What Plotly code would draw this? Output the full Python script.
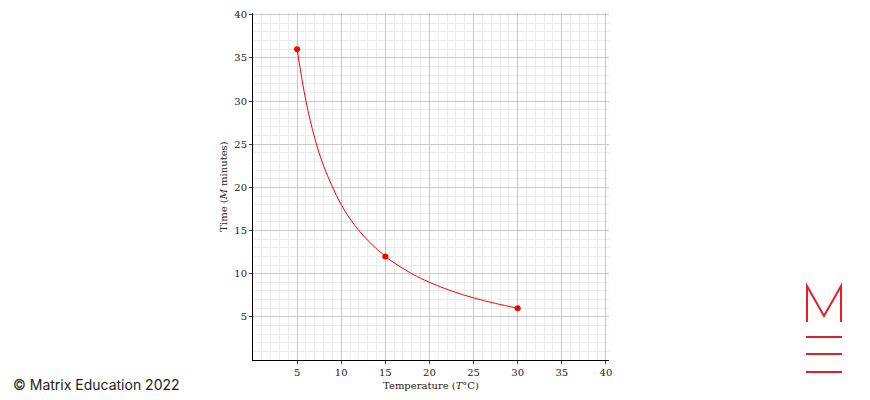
import plotly.graph_objects as go

# values
temps = [5, 6, 7, 8, 10, 12, 15, 18, 20, 22.5, 25, 27.5, 30]
times = [36, 30, 25.7, 22.5, 18, 15, 12, 10, 9, 8, 7.2, 6.55, 6]
pt_temps = [5, 15, 30]
pt_times = [36, 12, 6]
ticks = [5, 10, 15, 20, 25, 30, 35, 40]

# page renders with ~7px/8px body offset, compensate
DX, DY = 7, 8
L, R, T, B = 252 - DX, 608 - DX, 5, 360 - DY
def px(x): return (x - DX - L) / (R - L)
def py(y): return (B - (y - DY)) / (B - T)

fig = go.Figure()
fig.add_trace(go.Scatter(x=temps, y=times, mode='lines', line=dict(color='red', width=1, shape='spline'), hoverinfo='skip'))
fig.add_trace(go.Scatter(x=pt_temps, y=pt_times, mode='markers', marker=dict(color='red', size=6)))

axis = dict(tickvals=ticks, showgrid=True, gridcolor='#c8c8c8', gridwidth=1,
            minor=dict(dtick=1, showgrid=True, gridcolor='#ececec'), zeroline=False, automargin=False,
            showline=True, linecolor='black', ticks='outside', ticklen=3,
            tickfont=dict(family='DejaVu Serif', size=10, color='#222'))
tfont = dict(family='DejaVu Serif', size=10, color='#222')
fig.update_xaxes(**axis, range=[0, 40.35], title=dict(text='Temperature (<i>T</i>°C)', font=tfont, standoff=4))
fig.update_yaxes(**axis, range=[0, 40.2], title=dict(text='Time (<i>M</i> minutes)', font=tfont, standoff=4))

red = '#e41e26'
shapes = [
    dict(type='path', xref='paper', yref='paper', line=dict(color=red, width=2),
         path=f'M {px(806)} {py(322)} L {px(806)} {py(286)} L {px(823)} {py(316)} L {px(840)} {py(286)} L {px(840)} {py(322)}'),
]
for yy in [337, 354, 372]:
    shapes.append(dict(type='line', xref='paper', yref='paper', x0=px(805), x1=px(841), y0=py(yy), y1=py(yy),
                       line=dict(color=red, width=2)))
fig.update_layout(
    width=870, height=400, margin=dict(l=L, r=870 - R, t=T, b=400 - B),
    plot_bgcolor='white', paper_bgcolor='white', showlegend=False, shapes=shapes,
    annotations=[dict(text='© Matrix Education 2022', xref='paper', yref='paper', x=px(10), y=py(384),
                      xanchor='left', yanchor='middle', showarrow=False,
                      font=dict(family='Inter', size=14, color='#222'))],
)
fig.write_html('out.html')
